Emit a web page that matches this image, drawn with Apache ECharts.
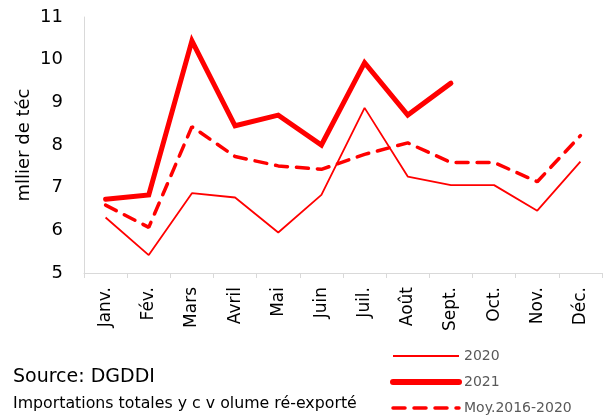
<!DOCTYPE html>
<html>
<head>
<meta charset="utf-8">
<script src="https://cdn.jsdelivr.net/npm/echarts@6/dist/echarts.min.js"></script>
<style>
  html, body { margin: 0; padding: 0; background: #fff; }
  #chart { width: 610px; height: 418px; }
</style>
</head>
<body>
<div id="chart"></div>
<script>
const months = ['Janv.', 'Fév.', 'Mars', 'Avril', 'Mai', 'Juin', 'Juil.', 'Août', 'Sept.', 'Oct.', 'Nov.', 'Déc.']
const v2020 = [6.30, 5.42, 6.87, 6.77, 5.95, 6.83, 8.87, 7.26, 7.06, 7.06, 6.46, 7.61]
const v2021 = [6.73, 6.83, 10.44, 8.45, 8.70, 8.00, 9.93, 8.70, 9.45]
const vMoy = [6.59, 6.07, 8.43, 7.73, 7.51, 7.43, 7.78, 8.05, 7.59, 7.59, 7.14, 8.22]

const red = '#ff0000'
const font = 'DejaVu Sans, sans-serif'

const chart = echarts.init(document.getElementById('chart'))

chart.setOption({
  animation: false,
  textStyle: { fontFamily: font },
  grid: { left: 84, right: 8, top: 17, bottom: 145 },
  legend: {
    orient: 'vertical',
    left: 390,
    top: 349,
    bottom: 0,
    padding: 0,
    itemWidth: 66,
    itemHeight: 14,
    itemGap: 12,
    itemStyle: { opacity: 0 },
    textStyle: { color: '#595959', fontSize: 14, fontFamily: font },
    data: [
      { name: '2020', lineStyle: { width: 1.8 } },
      { name: '2021', lineStyle: { width: 6 } },
      { name: 'Moy.2016-2020', lineStyle: { width: 3.5 } },
    ],
  },
  xAxis: {
    type: 'category',
    data: months,
    axisLine: { lineStyle: { color: '#d9d9d9', width: 1 } },
    axisTick: { show: true, length: 5, lineStyle: { color: '#d9d9d9' } },
    axisLabel: { rotate: 90, color: '#000', fontSize: 17, margin: 14, interval: 0 },
  },
  yAxis: {
    type: 'value',
    min: 5,
    max: 11,
    interval: 1,
    name: 'mllier de téc',
    nameLocation: 'middle',
    nameGap: 51,
    nameMoveOverlap: false,
    nameTextStyle: { color: '#000', fontSize: 18 },
    axisLine: { show: true, lineStyle: { color: '#d9d9d9', width: 1 } },
    axisTick: { show: false },
    splitLine: { show: false },
    axisLabel: { color: '#000', fontSize: 18, margin: 21 },
  },
  graphic: [
    { type: 'text', left: 13, top: 368, style: { text: 'Source: DGDDI', fontSize: 19, fill: '#000', fontFamily: font } },
    { type: 'text', left: 13, top: 396, style: { text: 'Importations totales y c v olume ré-exporté', fontSize: 15.8, fill: '#000', fontFamily: font } },
  ],
  series: [
    {
      name: '2020',
      type: 'line',
      data: v2020,
      symbol: 'none',
      itemStyle: { color: red },
      lineStyle: { color: red, width: 1.8 },
    },
    {
      name: '2021',
      type: 'line',
      data: v2021,
      symbol: 'none',
      itemStyle: { color: red },
      lineStyle: { color: red, width: 5, cap: 'round', join: 'miter' },
    },
    {
      name: 'Moy.2016-2020',
      type: 'line',
      data: vMoy,
      symbol: 'none',
      itemStyle: { color: red },
      lineStyle: { color: red, width: 3.5, type: [12, 9], cap: 'round' },
    },
  ],
})
</script>
</body>
</html>
